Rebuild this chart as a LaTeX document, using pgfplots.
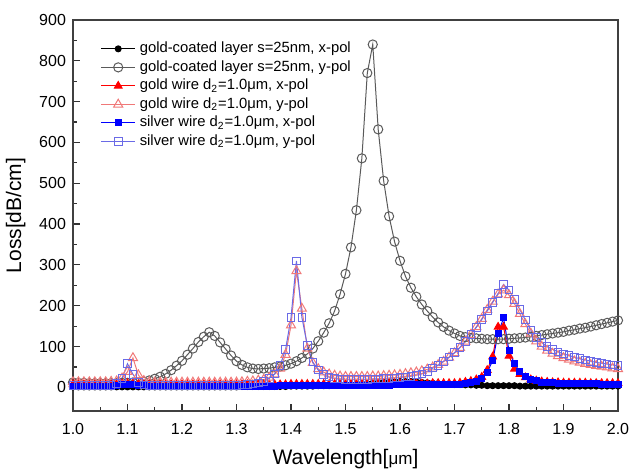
\documentclass[border=0pt]{standalone}
\usepackage{fontspec}
\setmainfont{Liberation Sans}
\usepackage{pgfplots}
\usepackage{pgfplotstable}
\pgfplotsset{compat=1.18}

\definecolor{gcgray}{HTML}{5A5A5A}
\definecolor{gwlight}{HTML}{F07878}
\definecolor{swlight}{HTML}{6A6AE6}

% x, gold-coated x/y, gold wire x/y, silver wire x/y
\pgfplotstableread{
x gcx gcy gwx gwy swx swy
1.00 1 12 7 13 3 4
1.01 1 11 7 13 3 4
1.02 1 11 7 13 3 4
1.03 1 10 7 13 3 4
1.04 1 10 7 13 3 4
1.05 1 10 7 13 3 4
1.06 1 10 7 13 3 4
1.07 1 10 7 14 3 5
1.08 1 10 8 15 4 10
1.09 1 11 9 22 6 22
1.10 1 11 10 38 8 58
1.11 1 12 9 72 7 32
1.12 1 13 8 30 5 12
1.13 1 14 7 16 4 6
1.14 1 17 7 13 3 5
1.15 1 21 7 12 3 5
1.16 1 26 7 12 3 5
1.17 1 33 7 12 3 5
1.18 1 42 7 12 3 5
1.19 1 53 7 12 3 5
1.20 1 65 7 12 3 5
1.21 1 80 7 12 3 5
1.22 1 95 7 12 3 5
1.23 1 111 7 12 3 5
1.24 1 124 7 12 3 5
1.25 1 135 7 12 3 5
1.26 1 126 7 12 3 5
1.27 1 110 7 12 3 5
1.28 1 94 7 12 3 5
1.29 1 78 7 12 3 5
1.30 1 64 7 12 3 5
1.31 2 55 7 13 3 6
1.32 2 49 7 14 3 7
1.33 2 46 7 15 3 8
1.34 2 45 7 17 3 11
1.35 2 46 7 19 3 15
1.36 2 47 7 24 3 22
1.37 2 49 7 32 3 33
1.38 2 51 7 46 4 54
1.39 2 54 7 80 4 92
1.40 3 58 8 152 4 171
1.41 3 64 8 285 4 310
1.42 3 72 8 193 4 171
1.43 3 82 8 95 4 103
1.44 3 95 8 60 4 62
1.45 4 113 8 45 4 42
1.46 4 134 8 37 4 31
1.47 4 157 8 32 4 25
1.48 5 187 8 29 4 22
1.49 5 228 8 27 5 20
1.50 6 278 8 26 5 19
1.51 6 343 8 26 5 19
1.52 7 434 8 26 5 19
1.53 8 561 8 26 5 19
1.54 9 770 8 26 5 19
1.55 10 840 8 27 5 20
1.56 11 632 9 27 5 20
1.57 12 506 9 28 5 21
1.58 13 419 9 29 5 22
1.59 13 357 9 30 6 23
1.60 14 310 9 31 6 24
1.61 14 272 9 33 6 25
1.62 14 244 9 35 6 27
1.63 13 222 9 37 6 30
1.64 12 203 9 40 6 33
1.65 11 187 9 44 6 39
1.66 10 172 10 49 6 47
1.67 9 159 10 55 6 54
1.68 8 148 10 63 7 64
1.69 8 139 10 73 7 74
1.70 7 132 10 84 7 85
1.71 7 126 11 97 8 98
1.72 6 123 13 112 9 113
1.73 6 121 15 129 11 129
1.74 5 120 19 148 15 147
1.75 5 119 25 168 22 166
1.76 4 118 42 190 37 187
1.77 4 118 75 210 65 208
1.78 4 118 148 228 132 230
1.79 4 118 148 238 170 252
1.80 4 119 77 226 90 238
1.81 4 120 45 205 58 215
1.82 3 121 32 180 38 190
1.83 3 122 24 155 27 165
1.84 3 124 19 132 20 140
1.85 3 126 16 113 16 122
1.86 3 128 14 100 13 110
1.87 3 130 13 90 12 100
1.88 3 132 12 83 11 93
1.89 3 134 12 77 10 87
1.90 3 136 11 72 10 82
1.91 3 139 11 68 10 78
1.92 3 141 11 64 9 74
1.93 3 144 11 61 9 70
1.94 3 146 11 58 9 67
1.95 3 149 10 55 9 64
1.96 3 152 10 53 9 61
1.97 3 155 10 51 8 59
1.98 3 158 10 49 8 57
1.99 3 161 10 47 8 55
2.00 3 164 10 45 8 53
}\losstable

\begin{document}
\begin{tikzpicture}
\begin{axis}[
    scale only axis, width=272.5pt, height=195.5pt,
    xmin=1, xmax=2, ymin=-58, ymax=900,
    xtick distance=0.1, ytick={0,100,...,900},
    minor x tick num=1, minor y tick num=1,
    tick align=inside, tick pos=left,
    major tick length=3.5pt, minor tick length=2pt,
    tick style={line width=0.6pt, black!80},
    axis line style={line width=1pt, black!75},
    x tick label style={yshift=-2.5pt, /pgf/number format/.cd, fixed, fixed zerofill, precision=1},
    /pgf/number format/assume math mode=true,
    tick label style={font=\fontsize{8}{9.5}\selectfont},
    xlabel={Wavelength[{\fontsize{8.5}{10}\selectfont μm}]},
    xlabel style={yshift=-0.5pt},
    ylabel={Loss[dB/cm]},
    label style={font=\fontsize{10.5}{12}\selectfont},
    legend style={draw=none, fill=none, at={(axis description cs:0.05,0.955)}, anchor=north west,
        font=\fontsize{7.4}{8.4}\selectfont, row sep=-1.6pt, inner sep=0pt},
    legend cell align=left,
    every axis plot/.append style={line width=0.5pt},
]
\addplot[black, mark=*, mark size=1.5pt] table[x=x, y=gcx] {\losstable};
\addlegendentry{gold-coated layer s=25nm, x-pol}
\addplot[gcgray, mark=o, mark size=2.3pt, mark options={fill=white}] table[x=x, y=gcy] {\losstable};
\addlegendentry{gold-coated layer s=25nm, y-pol}
\addplot[red, mark=triangle*, mark size=2.2pt] table[x=x, y=gwx] {\losstable};
\addlegendentry{ gold wire d\textsubscript{2}=1.0μm, x-pol}
\addplot[gwlight, mark=triangle, mark size=2.6pt, mark options={fill=white}] table[x=x, y=gwy] {\losstable};
\addlegendentry{ gold wire d\textsubscript{2}=1.0μm, y-pol}
\addplot[blue, mark=square*, mark size=1.5pt] table[x=x, y=swx] {\losstable};
\addlegendentry{silver wire d\textsubscript{2}=1.0μm, x-pol}
\addplot[swlight, mark=square, mark size=1.9pt, mark options={fill=white}] table[x=x, y=swy] {\losstable};
\addlegendentry{silver wire d\textsubscript{2}=1.0μm, y-pol}
\end{axis}
\pgfresetboundingbox
\path[use as bounding box] ([shift={(-36.5pt,-30.5pt)}]current axis.south west) rectangle ([shift={(6pt,10pt)}]current axis.north east);
\end{tikzpicture}
\end{document}
